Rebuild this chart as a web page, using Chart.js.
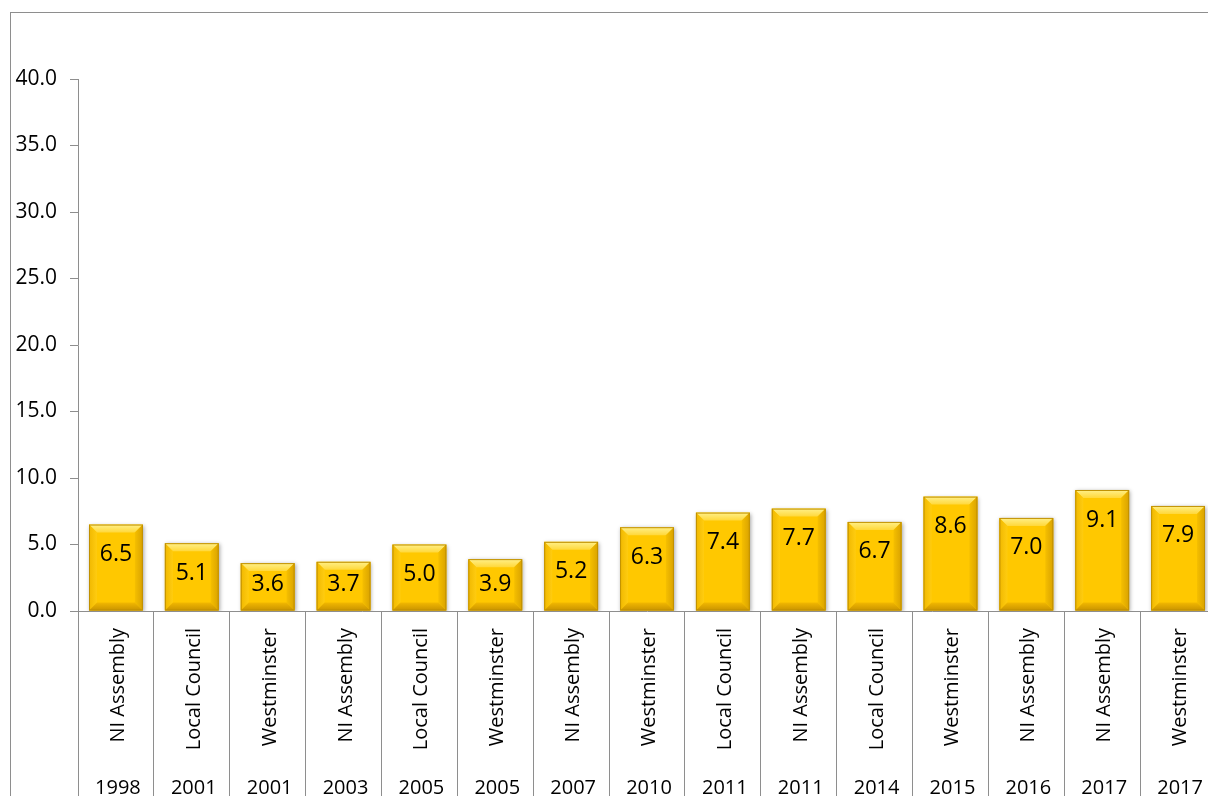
<!DOCTYPE html>
<html>
<head>
<meta charset="utf-8">
<script src="https://cdn.jsdelivr.net/npm/chart.js@4"></script>
<style>
  html, body { margin: 0; padding: 0; background: #fff; overflow: hidden; }
  #wrap { width: 1220px; height: 796px; }
</style>
</head>
<body>
<div id="wrap"><canvas id="chart" width="1220" height="796"></canvas></div>
<script>
/* Turnout share by election — gold bevelled bars */
const electionTypes = ['NI Assembly', 'Local Council', 'Westminster', 'NI Assembly', 'Local Council',
  'Westminster', 'NI Assembly', 'Westminster', 'Local Council', 'NI Assembly', 'Local Council',
  'Westminster', 'NI Assembly', 'NI Assembly', 'Westminster'];
const electionYears = ['1998', '2001', '2001', '2003', '2005', '2005', '2007', '2010', '2011',
  '2011', '2014', '2015', '2016', '2017', '2017'];
const values = [6.5, 5.1, 3.6, 3.7, 5.0, 3.9, 5.2, 6.3, 7.4, 7.7, 6.7, 8.6, 7.0, 9.1, 7.9];
const yMin = 0, yMax = 40, yStep = 5;

const FONT = '"Open Sans", "Noto Sans", sans-serif';
const AXIS_GREY = '#8e8e8e';

// outer frame of the chart object
const framePlugin = {
  id: 'frame',
  beforeDraw(chart) {
    const ctx = chart.ctx;
    ctx.save();
    ctx.strokeStyle = AXIS_GREY;
    ctx.lineWidth = 1;
    ctx.strokeRect(10.5, 12.5, 2000, 2000);
    ctx.restore();
  }
};

// drop shadow under the bars
const shadowPlugin = {
  id: 'barShadow',
  beforeDatasetDraw(chart) {
    const ctx = chart.ctx;
    ctx.save();
    ctx.shadowColor = 'rgba(0,0,0,0.35)';
    ctx.shadowBlur = 4;
    ctx.shadowOffsetX = 1;
    ctx.shadowOffsetY = 1;
  },
  afterDatasetDraw(chart) {
    chart.ctx.restore();
  }
};

// bevel facets + value labels on each bar
const bevelPlugin = {
  id: 'bevel',
  afterDatasetsDraw(chart) {
    const ctx = chart.ctx;
    const meta = chart.getDatasetMeta(0);
    meta.data.forEach((bar, i) => {
      const l = bar.x - bar.width / 2, r = bar.x + bar.width / 2;
      const t = bar.y, b = bar.base;
      const bv = 8;
      ctx.save();
      // top facet
      let g = ctx.createLinearGradient(0, t, 0, t + bv);
      g.addColorStop(0, '#fff08a');
      g.addColorStop(1, '#ffd83a');
      ctx.fillStyle = g;
      ctx.beginPath();
      ctx.moveTo(l, t); ctx.lineTo(r, t); ctx.lineTo(r - bv, t + bv); ctx.lineTo(l + bv, t + bv);
      ctx.closePath(); ctx.fill();
      // left facet
      g = ctx.createLinearGradient(l, 0, l + bv, 0);
      g.addColorStop(0, '#f0b800');
      g.addColorStop(1, '#ffcc10');
      ctx.fillStyle = g;
      ctx.beginPath();
      ctx.moveTo(l, t); ctx.lineTo(l + bv, t + bv); ctx.lineTo(l + bv, b - bv); ctx.lineTo(l, b);
      ctx.closePath(); ctx.fill();
      // right facet
      g = ctx.createLinearGradient(r - bv, 0, r, 0);
      g.addColorStop(0, '#f5bf00');
      g.addColorStop(1, '#d9a200');
      ctx.fillStyle = g;
      ctx.beginPath();
      ctx.moveTo(r, t); ctx.lineTo(r - bv, t + bv); ctx.lineTo(r - bv, b - bv); ctx.lineTo(r, b);
      ctx.closePath(); ctx.fill();
      // bottom facet
      g = ctx.createLinearGradient(0, b - bv, 0, b);
      g.addColorStop(0, '#f2b800');
      g.addColorStop(1, '#c99300');
      ctx.fillStyle = g;
      ctx.beginPath();
      ctx.moveTo(l, b); ctx.lineTo(r, b); ctx.lineTo(r - bv, b - bv); ctx.lineTo(l + bv, b - bv);
      ctx.closePath(); ctx.fill();
      // outline
      ctx.strokeStyle = '#c09000';
      ctx.lineWidth = 1;
      ctx.strokeRect(l + 0.5, t + 0.5, r - l - 1, b - t - 1);

      // value label
      ctx.fillStyle = '#000';
      ctx.font = '23px ' + FONT;
      ctx.textAlign = 'center';
      ctx.textBaseline = 'middle';
      const ly = Math.min(t + 30, b - 26);
      ctx.fillText(values[i].toFixed(1), bar.x, ly);
      ctx.restore();
    });
  }
};

// two-level category labels under the axis
const xLabelsPlugin = {
  id: 'xLabels',
  afterDraw(chart) {
    const ctx = chart.ctx;
    const xs = chart.scales.x;
    const top = chart.chartArea.bottom;
    ctx.save();
    ctx.fillStyle = '#000';
    ctx.font = '20px ' + FONT;
    electionTypes.forEach((lab, i) => {
      const x = xs.getPixelForValue(i);
      ctx.save();
      ctx.translate(x + 8, top + 17);
      ctx.rotate(-Math.PI / 2);
      ctx.textAlign = 'right';
      ctx.textBaseline = 'alphabetic';
      ctx.fillText(lab, 0, 0);
      ctx.restore();
    });
    ctx.textAlign = 'center';
    ctx.textBaseline = 'middle';
    electionYears.forEach((yr, i) => {
      ctx.fillText(yr, xs.getPixelForValue(i) + 2, top + 177);
    });
    ctx.restore();
  }
};

new Chart(document.getElementById('chart'), {
  type: 'bar',
  data: {
    labels: electionTypes.map((t, i) => [t, electionYears[i]]),
    datasets: [{
      data: values,
      backgroundColor: '#ffc800',
      borderWidth: 0,
      barPercentage: 0.71,
      categoryPercentage: 1
    }]
  },
  options: {
    responsive: false,
    animation: false,
    layout: { padding: { top: 79, right: 4, left: 0, bottom: 0 } },
    plugins: { legend: { display: false }, tooltip: { enabled: false } },
    scales: {
      x: {
        grid: { offset: true, drawOnChartArea: false, tickLength: 185, color: AXIS_GREY },
        border: { color: AXIS_GREY },
        ticks: { display: false }
      },
      y: {
        min: yMin, max: yMax,
        afterFit: s => { s.width = 78; },
        grid: { drawOnChartArea: false, tickLength: 8, color: AXIS_GREY },
        border: { color: AXIS_GREY },
        ticks: {
          stepSize: yStep, padding: 13, color: '#000',
          font: { family: FONT, size: 21 },
          callback: v => v.toFixed(1)
        }
      }
    }
  },
  plugins: [framePlugin, shadowPlugin, bevelPlugin, xLabelsPlugin]
});
</script>
</body>
</html>
